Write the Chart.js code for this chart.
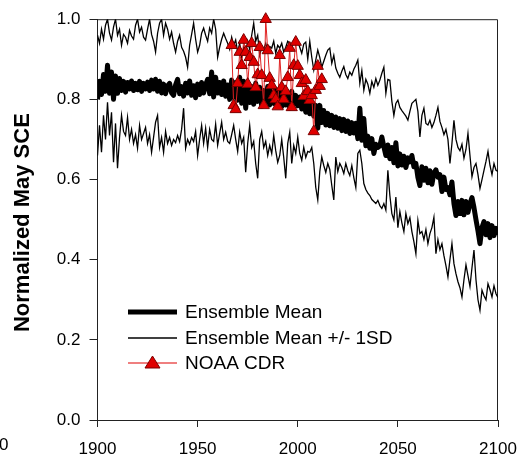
<!DOCTYPE html>
<html>
<head>
<meta charset="utf-8">
<script src="https://cdn.jsdelivr.net/npm/chart.js@4/dist/chart.umd.min.js"></script>
<style>
  html, body { margin: 0; padding: 0; background: #fff; }
  canvas { display: block; }
</style>
</head>
<body>
<canvas id="c" width="518" height="454"></canvas>
<script>
// Model years 1900-2100 (one value per year)
const firstYear = 1900;

// Ensemble mean of normalized May snow cover extent
const ensembleMean = [
  0.800, 0.845, 0.812, 0.862, 0.820, 0.885, 0.815, 0.868, 0.800, 0.858,
  0.815, 0.852, 0.822, 0.845, 0.818, 0.842, 0.826, 0.846, 0.822, 0.840,
  0.824, 0.845, 0.820, 0.840, 0.826, 0.843, 0.822, 0.848, 0.826, 0.850,
  0.820, 0.845, 0.816, 0.838, 0.814, 0.834, 0.840, 0.816, 0.810, 0.836,
  0.850, 0.814, 0.832, 0.808, 0.840, 0.816, 0.846, 0.810, 0.834, 0.804,
  0.838, 0.812, 0.842, 0.816, 0.836, 0.850, 0.814, 0.868, 0.806, 0.855,
  0.816, 0.842, 0.812, 0.846, 0.808, 0.836, 0.800, 0.848, 0.805, 0.842,
  0.798, 0.855, 0.790, 0.845, 0.778, 0.838, 0.792, 0.832, 0.788, 0.840,
  0.795, 0.830, 0.782, 0.822, 0.792, 0.832, 0.786, 0.820, 0.790, 0.825,
  0.788, 0.818, 0.782, 0.822, 0.786, 0.815, 0.778, 0.820, 0.788, 0.810,
  0.784, 0.806, 0.776, 0.800, 0.768, 0.795, 0.764, 0.790, 0.758, 0.785,
  0.728, 0.785, 0.742, 0.772, 0.736, 0.765, 0.734, 0.760, 0.730, 0.756,
  0.728, 0.752, 0.722, 0.750, 0.720, 0.746, 0.715, 0.742, 0.716, 0.740,
  0.702, 0.778, 0.698, 0.752, 0.684, 0.708, 0.678, 0.702, 0.665, 0.688,
  0.680, 0.684, 0.706, 0.682, 0.660, 0.686, 0.652, 0.680, 0.642, 0.692,
  0.634, 0.664, 0.636, 0.658, 0.630, 0.654, 0.644, 0.660, 0.632, 0.640,
  0.605, 0.585, 0.632, 0.598, 0.628, 0.592, 0.622, 0.588, 0.616, 0.624,
  0.606, 0.612, 0.570, 0.606, 0.575, 0.580, 0.562, 0.594, 0.540, 0.510,
  0.545, 0.515, 0.548, 0.512, 0.545, 0.518, 0.540, 0.555, 0.530, 0.500,
  0.472, 0.440, 0.480, 0.495, 0.462, 0.490, 0.455, 0.485, 0.460, 0.478,
  0.462
];

// Ensemble mean + 1 standard deviation
const upperSD = [
  0.960, 0.940, 0.975, 0.950, 0.985, 1.000, 0.965, 0.948, 0.980, 1.000,
  0.960, 0.975, 0.935, 0.962, 0.955, 0.940, 0.972, 0.958, 0.950, 0.985,
  1.000, 0.968, 0.980, 0.955, 0.948, 0.975, 1.000, 0.962, 0.945, 0.918,
  0.965, 0.990, 1.000, 0.960, 0.990, 0.975, 0.950, 0.968, 0.940, 0.918,
  0.945, 0.960, 0.930, 0.920, 0.905, 0.880, 0.935, 0.962, 0.990, 0.950,
  0.918, 0.935, 0.965, 0.978, 0.960, 0.945, 0.978, 0.965, 1.000, 0.975,
  0.905, 0.930, 0.950, 0.965, 0.952, 0.940, 0.925, 0.955, 0.935, 0.948,
  0.918, 0.940, 0.905, 0.930, 0.915, 0.945, 0.925, 0.960, 0.990, 0.945,
  0.960, 0.910, 0.930, 0.925, 0.940, 0.920, 0.932, 0.928, 0.945, 0.915,
  0.935, 0.928, 0.940, 0.918, 0.930, 0.945, 0.940, 0.925, 0.948, 0.952,
  0.945, 0.930, 0.915, 0.938, 0.943, 0.900, 0.945, 0.905, 0.873, 0.898,
  0.923, 0.905, 0.880, 0.895, 0.910, 0.923, 0.928, 0.890, 0.910, 0.878,
  0.865, 0.855, 0.870, 0.882, 0.862, 0.852, 0.868, 0.860, 0.875, 0.885,
  0.898, 0.840, 0.872, 0.823, 0.850, 0.838, 0.815, 0.845, 0.830, 0.852,
  0.835, 0.848, 0.865, 0.880, 0.815, 0.850, 0.848, 0.795, 0.760, 0.790,
  0.798, 0.780, 0.772, 0.765, 0.758, 0.748, 0.770, 0.790, 0.795, 0.800,
  0.770, 0.706, 0.760, 0.778, 0.740, 0.736, 0.748, 0.730, 0.742, 0.760,
  0.780, 0.745, 0.730, 0.712, 0.725, 0.700, 0.640, 0.690, 0.748, 0.700,
  0.680, 0.672, 0.688, 0.653, 0.675, 0.715, 0.660, 0.607, 0.630, 0.640,
  0.612, 0.578, 0.600, 0.623, 0.645, 0.670, 0.635, 0.612, 0.640, 0.623,
  0.620
];

// Ensemble mean - 1 standard deviation
const lowerSD = [
  0.660, 0.735, 0.668, 0.760, 0.700, 0.793, 0.710, 0.768, 0.643, 0.740,
  0.628, 0.705, 0.760, 0.720, 0.710, 0.755, 0.700, 0.725, 0.690, 0.712,
  0.678, 0.735, 0.700, 0.715, 0.730, 0.690, 0.712, 0.668, 0.705, 0.743,
  0.760, 0.680, 0.705, 0.668, 0.720, 0.690, 0.705, 0.685, 0.700, 0.692,
  0.710, 0.695, 0.725, 0.778, 0.678, 0.700, 0.688, 0.705, 0.695, 0.720,
  0.660, 0.700, 0.735, 0.690, 0.728, 0.680, 0.725, 0.700, 0.695, 0.738,
  0.686, 0.715, 0.743, 0.700, 0.718, 0.695, 0.690, 0.712, 0.735, 0.700,
  0.670, 0.718, 0.690, 0.705, 0.618, 0.690, 0.735, 0.680, 0.695, 0.640,
  0.603, 0.700, 0.720, 0.680, 0.695, 0.660, 0.685, 0.665, 0.710, 0.672,
  0.643, 0.660, 0.700, 0.655, 0.603, 0.690, 0.718, 0.640, 0.685, 0.665,
  0.706, 0.665, 0.648, 0.680, 0.655, 0.670, 0.668, 0.680, 0.640, 0.580,
  0.549, 0.620, 0.656, 0.635, 0.618, 0.640, 0.625, 0.585, 0.549, 0.656,
  0.620, 0.640, 0.630, 0.615, 0.640, 0.622, 0.610, 0.635, 0.605, 0.580,
  0.665, 0.673, 0.640, 0.590, 0.575, 0.566, 0.560, 0.550, 0.545, 0.540,
  0.548, 0.535, 0.528, 0.540, 0.524, 0.623, 0.560, 0.515, 0.499, 0.556,
  0.480, 0.520, 0.492, 0.470, 0.515, 0.490, 0.505, 0.470, 0.445, 0.415,
  0.498, 0.465, 0.470, 0.450, 0.475, 0.440, 0.465, 0.480, 0.506, 0.415,
  0.450, 0.425, 0.440, 0.410, 0.385, 0.357, 0.400, 0.440, 0.390, 0.365,
  0.345, 0.330, 0.307, 0.350, 0.387, 0.360, 0.333, 0.380, 0.424, 0.350,
  0.300, 0.274, 0.324, 0.310, 0.300, 0.340, 0.325, 0.307, 0.335, 0.315,
  0.305
];

// NOAA Climate Data Record, observed years
const cdrYears = [
  1967, 1968, 1969, 1970, 1971, 1972, 1973, 1974, 1975, 1976,
  1977, 1978, 1979, 1980, 1981, 1982, 1983, 1984, 1985, 1986,
  1987, 1988, 1989, 1990, 1991, 1992, 1993, 1994, 1995, 1996,
  1997, 1998, 1999, 2000, 2001, 2002, 2003, 2004, 2005, 2006,
  2007, 2008, 2009, 2010, 2011, 2012
];
const cdrValues = [
  0.935, 0.785, 0.775, 0.840, 0.918, 0.885, 0.948, 0.918, 0.838, 0.905,
  0.940, 0.893, 0.830, 0.862, 0.930, 0.860, 0.785, 1.000, 0.922, 0.853,
  0.835, 0.810, 0.800, 0.782, 0.910, 0.830, 0.800, 0.820, 0.855, 0.928,
  0.780, 0.885, 0.943, 0.883, 0.860, 0.840, 0.808, 0.848, 0.820, 0.798,
  0.810, 0.720, 0.823, 0.883, 0.833, 0.850
];

// Axis ticks
const xTicks = [1900, 1950, 2000, 2050, 2100];
const yTicks = [0.0, 0.2, 0.4, 0.6, 0.8, 1.0];

const seriesNames = ['Ensemble Mean', 'Ensemble Mean +/- 1SD', 'NOAA CDR'];
const axisTitle = 'Normalized May SCE';

const toPoints = vals => vals.map((v, i) => ({ x: firstYear + i, y: v }));
const cdrPoints = cdrYears.map((yr, i) => ({ x: yr, y: cdrValues[i] }));

const FONT = '"Liberation Sans", Arial, Helvetica, sans-serif';
const RED = '#e00000';

// Box around the plotting area (top and right edges)
const framePlugin = {
  id: 'frame',
  beforeDatasetsDraw(chart) {
    const a = chart.chartArea, c = chart.ctx;
    c.save();
    c.strokeStyle = '#222';
    c.lineWidth = 1;
    c.beginPath();
    c.moveTo(a.left, a.top + 0.5);
    c.lineTo(a.right - 0.5, a.top + 0.5);
    c.lineTo(a.right - 0.5, a.bottom);
    c.stroke();
    c.restore();
  }
};

// Vertical axis title and the legend box inside the plot
const annotatePlugin = {
  id: 'annotate',
  afterDraw(chart) {
    const c = chart.ctx, a = chart.chartArea;
    c.save();
    // y-axis title
    c.fillStyle = '#000';
    c.font = 'bold 22px ' + FONT;
    c.textAlign = 'center';
    c.textBaseline = 'middle';
    c.translate(23, (a.top + a.bottom) / 2 + 3);
    c.rotate(-Math.PI / 2);
    c.fillText(axisTitle, 0, 0);
    c.restore();

    // stray tick label at far left
    c.save();
    c.fillStyle = '#000';
    c.font = '17px ' + FONT;
    c.textAlign = 'left';
    c.textBaseline = 'middle';
    c.fillText('0', -1, 445);
    c.restore();

    // legend
    const lx0 = 128, lx1 = 177, tx = 185;
    const rows = [312, 338, 363];
    c.save();
    c.lineCap = 'butt';
    c.strokeStyle = '#000';
    c.lineWidth = 5;
    c.beginPath(); c.moveTo(lx0, rows[0]); c.lineTo(lx1, rows[0]); c.stroke();
    c.lineWidth = 1.3;
    c.beginPath(); c.moveTo(lx0, rows[1]); c.lineTo(lx1, rows[1]); c.stroke();
    c.strokeStyle = RED;
    c.lineWidth = 1.2;
    c.beginPath(); c.moveTo(lx0, rows[2]); c.lineTo(lx1, rows[2]); c.stroke();
    const cx = (lx0 + lx1) / 2, cy = rows[2];
    c.beginPath();
    c.moveTo(cx, cy - 7);
    c.lineTo(cx + 7.5, cy + 5);
    c.lineTo(cx - 7.5, cy + 5);
    c.closePath();
    c.fillStyle = RED;
    c.fill();
    c.strokeStyle = '#7a0000';
    c.lineWidth = 1;
    c.stroke();

    c.fillStyle = '#000';
    c.font = '19px ' + FONT;
    c.textAlign = 'left';
    c.textBaseline = 'middle';
    seriesNames.forEach((s, i) => c.fillText(s, tx, rows[i] + 1));
    c.restore();
  }
};

new Chart(document.getElementById('c'), {
  type: 'line',
  data: {
    datasets: [
      {
        label: seriesNames[2],
        data: cdrPoints,
        borderColor: '#e02020',
        borderWidth: 1,
        backgroundColor: RED,
        pointStyle: 'triangle',
        pointRadius: 6.5,
        pointBorderColor: '#7a0000',
        pointBorderWidth: 1,
        pointBackgroundColor: RED,
        tension: 0,
        clip: false,
        order: 0
      },
      {
        label: seriesNames[0],
        data: toPoints(ensembleMean),
        borderColor: '#000',
        borderWidth: 5,
        borderJoinStyle: 'round',
        pointRadius: 0,
        tension: 0,
        order: 1
      },
      {
        label: seriesNames[1],
        data: toPoints(upperSD),
        borderColor: '#000',
        borderWidth: 1.3,
        pointRadius: 0,
        tension: 0,
        order: 2
      },
      {
        label: seriesNames[1] + ' lower',
        data: toPoints(lowerSD),
        borderColor: '#000',
        borderWidth: 1.3,
        pointRadius: 0,
        tension: 0,
        order: 2
      }
    ]
  },
  options: {
    responsive: false,
    animation: false,
    events: [],
    layout: { padding: { left: 0, right: 20, top: 19, bottom: 0 } },
    scales: {
      x: {
        type: 'linear',
        min: xTicks[0],
        max: xTicks[xTicks.length - 1],
        afterFit(s) { s.height = 34; s.paddingLeft = 0; s.paddingRight = 0; },
        afterBuildTicks(s) { s.ticks = xTicks.map(v => ({ value: v })); },
        ticks: {
          color: '#000',
          font: { family: FONT, size: 17 },
          padding: 12,
          maxRotation: 0,
          autoSkip: false,
          callback: v => String(v)
        },
        grid: { drawOnChartArea: false, drawTicks: true, tickLength: 7, color: '#222', lineWidth: 1 },
        border: { display: true, color: '#222', width: 1 }
      },
      y: {
        min: 0,
        max: 1,
        afterFit(s) { s.width = 97.5; },
        afterBuildTicks(s) { s.ticks = yTicks.map(v => ({ value: v })); },
        ticks: {
          color: '#000',
          font: { family: FONT, size: 17 },
          padding: 9,
          autoSkip: false,
          callback: v => Number(v).toFixed(1)
        },
        grid: { drawOnChartArea: false, drawTicks: true, tickLength: 8, color: '#222', lineWidth: 1 },
        border: { display: true, color: '#222', width: 1 }
      }
    },
    plugins: {
      legend: { display: false },
      tooltip: { enabled: false }
    }
  },
  plugins: [framePlugin, annotatePlugin]
});
</script>
</body>
</html>
